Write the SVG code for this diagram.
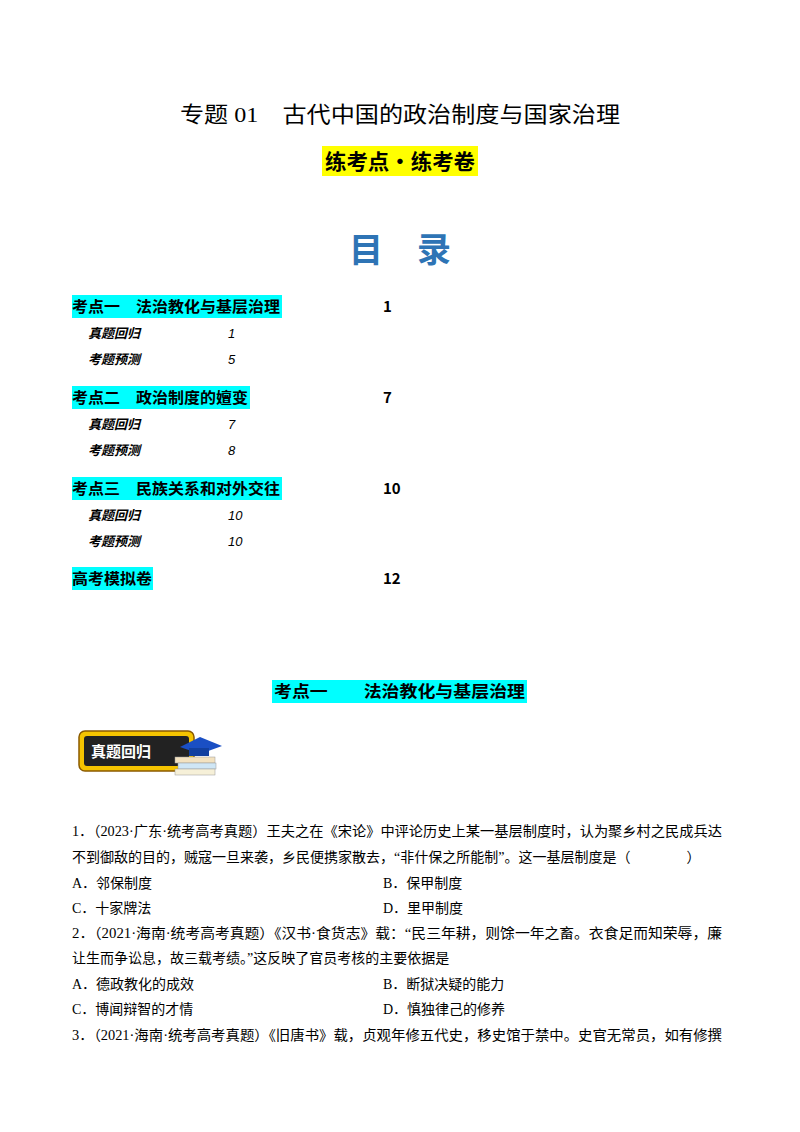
<svg xmlns="http://www.w3.org/2000/svg" width="800" height="1132" viewBox="0 0 800 1132">
<style>
.t{font-family:"Liberation Serif","Noto Sans CJK SC",serif;fill:#000}
.b{font-family:"Noto Sans CJK SC",sans-serif;font-weight:bold;fill:#000}
.s{font-family:"Liberation Sans","Noto Sans CJK SC",sans-serif;font-style:italic;font-size:13px;font-weight:bold}
.n{font-family:"Liberation Sans",sans-serif;font-style:italic;font-size:13px}
.h{fill:#00ffff}
.p{font-size:14px}
</style>
<rect width="800" height="1132" fill="#fff"/>
<text class="t" x="400" y="122" font-size="22" text-anchor="middle" textLength="440" lengthAdjust="spacingAndGlyphs">专题 01　古代中国的政治制度与国家治理</text>
<rect x="322" y="146" width="156" height="30" fill="#ffff00"/>
<text class="b" x="400" y="169" font-size="21" text-anchor="middle" textLength="150" lengthAdjust="spacingAndGlyphs">练考点·练考卷</text>
<text class="b" x="400" y="262" font-size="34" text-anchor="middle" style="fill:#2e74b5">目　录</text>
<g id="toc">
<rect class="h" x="72" y="295" width="210" height="23"/>
<text class="b" x="72" y="312" font-size="15" textLength="208" lengthAdjust="spacingAndGlyphs">考点一　法治教化与基层治理</text>
<text class="b" x="383" y="312" font-size="15">1</text>
<text class="s" x="88" y="338">真题回归</text><text class="n" x="228" y="338">1</text>
<text class="s" x="88" y="364">考题预测</text><text class="n" x="228" y="364">5</text>
<rect class="h" x="72" y="386" width="178" height="23"/>
<text class="b" x="72" y="403" font-size="15" textLength="176" lengthAdjust="spacingAndGlyphs">考点二　政治制度的嬗变</text>
<text class="b" x="383" y="403" font-size="15">7</text>
<text class="s" x="88" y="429">真题回归</text><text class="n" x="228" y="429">7</text>
<text class="s" x="88" y="455">考题预测</text><text class="n" x="228" y="455">8</text>
<rect class="h" x="72" y="477" width="210" height="23"/>
<text class="b" x="72" y="494" font-size="15" textLength="208" lengthAdjust="spacingAndGlyphs">考点三　民族关系和对外交往</text>
<text class="b" x="383" y="494" font-size="15">10</text>
<text class="s" x="88" y="520">真题回归</text><text class="n" x="228" y="520">10</text>
<text class="s" x="88" y="546">考题预测</text><text class="n" x="228" y="546">10</text>
<rect class="h" x="72" y="567" width="81" height="23"/>
<text class="b" x="72" y="584" font-size="15" textLength="80" lengthAdjust="spacingAndGlyphs">高考模拟卷</text>
<text class="b" x="383" y="584" font-size="15">12</text>
</g>
<rect class="h" x="272" y="680" width="255" height="23"/>
<text class="b" x="274" y="697" font-size="16" textLength="251" lengthAdjust="spacingAndGlyphs">考点一　　法治教化与基层治理</text>
<g id="badge">
<rect x="79" y="731" width="115" height="40" rx="6" fill="#f5c400" stroke="#8a5a00" stroke-width="1.5"/>
<rect x="84" y="736" width="105" height="30" rx="3" fill="#222"/>
<text x="91" y="757" font-family="Noto Sans CJK SC,sans-serif" font-weight="bold" font-size="15" fill="#fff">真题回归</text>
<rect x="175" y="757" width="40" height="6" fill="#f3e2c0" stroke="#999" stroke-width="0.5"/>
<rect x="178" y="763" width="38" height="6" fill="#cfe6f5" stroke="#999" stroke-width="0.5"/>
<rect x="175" y="769" width="40" height="6" fill="#f6f0d8" stroke="#999" stroke-width="0.5"/>
<polygon points="180,747 200,737 222,746 200,754" fill="#1a4fc4"/>
<rect x="189" y="748" width="20" height="8" fill="#1240a0"/>
</g>
<g class="t p">
<text x="72" y="836" textLength="650" lengthAdjust="spacingAndGlyphs">1．（2023·广东·统考高考真题）王夫之在《宋论》中评论历史上某一基层制度时，认为聚乡村之民成兵达</text>
<text x="72" y="862">不到御敌的目的，贼寇一旦来袭，乡民便携家散去，“非什保之所能制”。这一基层制度是（　　　　）</text>
<text x="72" y="888">A．邻保制度</text><text x="383" y="888">B．保甲制度</text>
<text x="72" y="913">C．十家牌法</text><text x="383" y="913">D．里甲制度</text>
<text x="72" y="938" textLength="650" lengthAdjust="spacingAndGlyphs">2．（2021·海南·统考高考真题）《汉书·食货志》载：“民三年耕，则馀一年之畜。衣食足而知荣辱，廉</text>
<text x="72" y="963">让生而争讼息，故三载考绩。”这反映了官员考核的主要依据是</text>
<text x="72" y="989">A．德政教化的成效</text><text x="383" y="989">B．断狱决疑的能力</text>
<text x="72" y="1014">C．博闻辩智的才情</text><text x="383" y="1014">D．慎独律己的修养</text>
<text x="72" y="1040" textLength="650" lengthAdjust="spacingAndGlyphs">3．（2021·海南·统考高考真题）《旧唐书》载，贞观年修五代史，移史馆于禁中。史官无常员，如有修撰</text>
</g>
</svg>
